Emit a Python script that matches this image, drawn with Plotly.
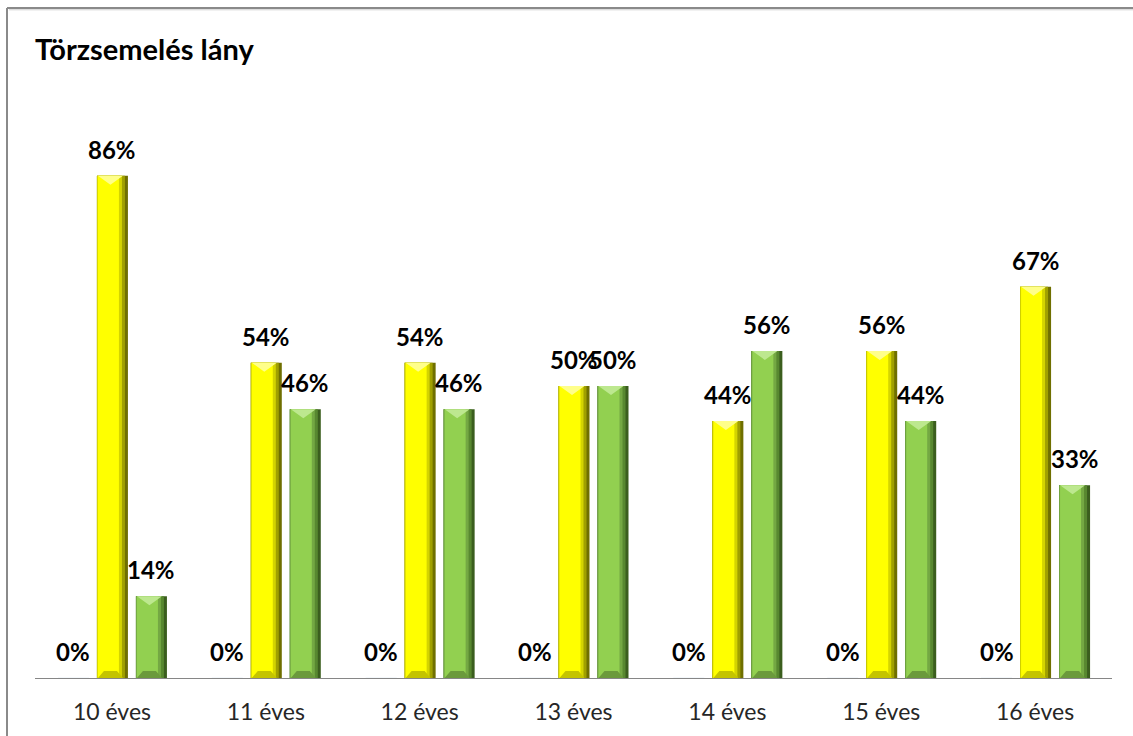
import plotly.graph_objects as go

# Chart data
categories = ["10 éves", "11 éves", "12 éves", "13 éves", "14 éves", "15 éves", "16 éves"]
series_zero = [0, 0, 0, 0, 0, 0, 0]
series_yellow = [86, 54, 54, 50, 44, 56, 67]
series_green = [14, 46, 46, 50, 56, 44, 33]

# Page geometry (pixels)
W, H = 1133, 736
ML, MR, MT, MB = 35, 21, 94, 58
PLOT_W = W - ML - MR
PLOT_H = H - MT - MB
YMAX = 100
PX_X = PLOT_W / len(categories)
PX_Y = PLOT_H / YMAX


def ux(px):
    return px / PX_X


def uy(px):
    return px / PX_Y


BAR_W = 31
SLOT_CENTERS = [-38.5, 0.5, 39.5]  # px offset of each series within a category

FONT = "Lato"

palettes = {
    "yellow": {
        "layers": ["#6f6f00", "#a0a000", "#d4d400", "#ffff00"],
        "cap": "#ffff8a",
        "foot": "#c4c400",
    },
    "green": {
        "layers": ["#3b5e1e", "#588830", "#74a843", "#92d050"],
        "cap": "#bde88f",
        "foot": "#6b9a3c",
    },
}

fig = go.Figure()
xs = list(range(len(categories)))


def add_bevel_bar(values, center_px, pal, name):
    left = center_px - BAR_W / 2
    spans = [(0, 31), (0, 28), (0, 25), (1, 22)]
    for (a, b), col in zip(spans, pal["layers"]):
        fig.add_trace(go.Bar(
            x=xs, y=values, name=name, showlegend=False,
            offset=ux(left + a), width=ux(b - a),
            marker=dict(color=col, line=dict(width=0)),
            hoverinfo="skip",
        ))
    # top chevron highlight and bottom shading, derived from each value
    cap_x, cap_y, foot_x, foot_y = [], [], [], []
    for i, v in zip(xs, values):
        if v <= 0:
            continue
        depth = min(uy(9), v / 2)
        cap_x += [i + ux(left + 1), i + ux(left + 26), i + ux(left + 13.5), i + ux(left + 1), None]
        cap_y += [v, v, v - depth, v, None]
        fd = min(uy(7), v / 2)
        foot_x += [i + ux(left + 1), i + ux(left + 26), i + ux(left + 20), i + ux(left + 7), i + ux(left + 1), None]
        foot_y += [0, 0, fd, fd, 0, None]
    fig.add_trace(go.Scatter(x=cap_x, y=cap_y, mode="lines", fill="toself",
                             fillcolor=pal["cap"], line=dict(width=0),
                             showlegend=False, hoverinfo="skip"))
    fig.add_trace(go.Scatter(x=foot_x, y=foot_y, mode="lines", fill="toself",
                             fillcolor=pal["foot"], line=dict(width=0),
                             showlegend=False, hoverinfo="skip"))


# zero series: no visible bar, only its labels
fig.add_trace(go.Bar(x=xs, y=series_zero, offset=ux(SLOT_CENTERS[0] - BAR_W / 2),
                     width=ux(BAR_W), marker_color="#4f81bd", showlegend=False,
                     hoverinfo="skip"))
add_bevel_bar(series_yellow, SLOT_CENTERS[1], palettes["yellow"], "sárga")
add_bevel_bar(series_green, SLOT_CENTERS[2], palettes["green"], "zöld")

# value labels
for vals, c in zip([series_zero, series_yellow, series_green], SLOT_CENTERS):
    for i, v in zip(xs, vals):
        fig.add_annotation(x=i + ux(c), y=v, text=f"<b>{v}%</b>", showarrow=False,
                           xanchor="center", yanchor="bottom", yshift=10,
                           font=dict(family=FONT, size=24, color="#000000"))


def px_to_paper_x(px):
    return (px - ML) / PLOT_W


def px_to_paper_y(py):
    return (H - MB - py) / PLOT_H


# chart frame (left and top edges visible)
frame = dict(type="line", xref="paper", yref="paper", layer="above")
fig.add_shape(**frame, x0=px_to_paper_x(7), x1=px_to_paper_x(1145),
              y0=px_to_paper_y(8), y1=px_to_paper_y(8), line=dict(color="#8a8a8a", width=2))
fig.add_shape(**frame, x0=px_to_paper_x(7), x1=px_to_paper_x(7),
              y0=px_to_paper_y(8), y1=px_to_paper_y(750), line=dict(color="#8a8a8a", width=2))
fig.add_shape(**frame, x0=px_to_paper_x(9), x1=px_to_paper_x(1145),
              y0=px_to_paper_y(9.8), y1=px_to_paper_y(9.8), line=dict(color="#cfcfcf", width=1))

fig.update_layout(
    width=W, height=H,
    margin=dict(l=ML, r=MR, t=MT, b=MB, pad=0),
    paper_bgcolor="white", plot_bgcolor="white",
    barmode="overlay",
    title=dict(text="<b>Törzsemelés lány</b>", xref="container", yref="container",
               x=35 / W, xanchor="left", y=1 - 50 / H, yanchor="middle",
               font=dict(family=FONT, size=29, color="#000000")),
    xaxis=dict(range=[-0.5, len(categories) - 0.5], tickvals=xs, ticktext=categories,
               showline=True, linecolor="#868686", linewidth=1, ticks="",
               showgrid=False, zeroline=False, ticklabelstandoff=13,
               tickfont=dict(family=FONT, size=23, color="#262626")),
    yaxis=dict(range=[0, YMAX], visible=False, showgrid=False, zeroline=False),
    showlegend=False,
)

fig.write_html("out.html")
